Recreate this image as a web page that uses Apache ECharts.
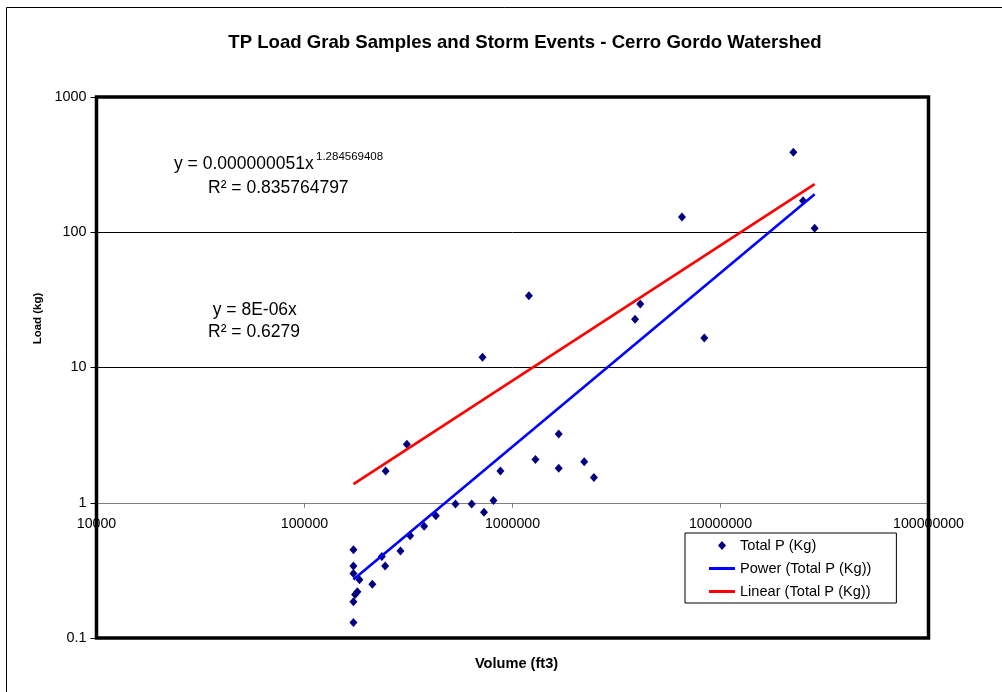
<!DOCTYPE html>
<html>
<head>
<meta charset="utf-8">
<title>TP Load Grab Samples and Storm Events - Cerro Gordo Watershed</title>
<script src="https://cdn.jsdelivr.net/npm/echarts@6/dist/echarts.min.js"></script>
<style>
  html, body { margin: 0; padding: 0; background: #fff; }
  #chart { width: 1002px; height: 692px; }
</style>
</head>
<body>
<div id="chart"></div>
<script>
// Runoff volume (ft3) and total phosphorus load (kg) for each sample / event
const volumes = [
  171900, 171900, 171900, 183700, 179600, 175100, 171900, 171900,
  211900, 235400, 244200, 289300, 322100, 376100, 428200, 531900,
  636400, 729300, 810000, 874700, 245500, 310500, 717400, 1199000,
  1289000, 1668000, 1668000, 2213000, 2463000, 3883000, 4114000, 6528000,
  8359000, 22400000, 24940000, 28360000
];
const loads = [
  0.45, 0.34, 0.30, 0.27, 0.22, 0.21, 0.185, 0.13,
  0.25, 0.40, 0.34, 0.44, 0.57, 0.67, 0.80, 0.98,
  0.98, 0.85, 1.04, 1.72, 1.72, 2.71, 11.9, 33.9,
  2.09, 3.23, 1.80, 2.01, 1.54, 22.7, 29.5, 129.8,
  16.5, 390, 171, 107
];

// Axis decades
const xTicks = [10000, 100000, 1000000, 10000000, 100000000];
const yTicks = [0.1, 1, 10, 100, 1000];

// Trendline fits
const POWER_COEF = 0.000000051;
const POWER_EXP = 1.284569408;
const POWER_R2 = 0.835764797;
const LINEAR_SLOPE = 8e-6;
const LINEAR_R2 = 0.6279;

const SERIES_POINTS = 'Total P (Kg)';
const SERIES_POWER = 'Power (Total P (Kg))';
const SERIES_LINEAR = 'Linear (Total P (Kg))';

const FONT = '"Liberation Sans", Arial, Helvetica, sans-serif';

const points = volumes.map((v, i) => [v, loads[i]]);
const xMin = Math.min(...volumes);
const xMax = Math.max(...volumes);
const powerLine = [xMin, xMax].map(x => [x, POWER_COEF * Math.pow(x, POWER_EXP)]);
const linearLine = [xMin, xMax].map(x => [x, LINEAR_SLOPE * x]);

function excelExp(v) {
  const parts = v.toExponential(0).split('e');
  const n = parseInt(parts[1], 10);
  return parts[0] + 'E' + (n < 0 ? '-' : '+') + String(Math.abs(n)).padStart(2, '0');
}
const tickText = v => String(Number(v.toPrecision(6)));

// Plot rectangle
const G = { left: 96.5, top: 97, width: 832, height: 541 };
// x axis crosses the y axis at load = 1
const yDecades = Math.log10(yTicks[yTicks.length - 1]) - Math.log10(yTicks[0]);
const xAxisOffset = -G.height * (Math.log10(1) - Math.log10(yTicks[0])) / yDecades;

// legend keys: a small diamond and short thick strokes
const ICON_DIAMOND = 'path://M4,0L8,4.5L4,9L0,4.5Z';
const ICON_STROKE = 'path://M0,0L26,0L26,3L0,3Z';

const chart = echarts.init(document.getElementById('chart'), null, { renderer: 'canvas' });

chart.setOption({
  backgroundColor: '#fff',
  animation: false,
  textStyle: { fontFamily: FONT },
  grid: { left: G.left, top: G.top, width: G.width, height: G.height, containLabel: false },
  xAxis: {
    type: 'log',
    logBase: 10,
    min: xTicks[0],
    max: xTicks[xTicks.length - 1],
    position: 'bottom',
    offset: xAxisOffset,
    z: 1,
    axisLine: { show: true, onZero: false, lineStyle: { color: '#808080', width: 1 } },
    axisTick: { show: true, inside: false, length: 5, lineStyle: { color: '#808080', width: 1 } },
    axisLabel: {
      show: true, margin: 14.5, color: '#000', fontSize: 14.2, fontFamily: FONT,
      showMinLabel: true, showMaxLabel: true, formatter: tickText
    },
    splitLine: { show: false },
    minorTick: { show: false }
  },
  yAxis: {
    type: 'log',
    logBase: 10,
    min: yTicks[0],
    max: yTicks[yTicks.length - 1],
    z: 0,
    axisLine: { show: false },
    axisTick: { show: true, inside: false, length: 6, lineStyle: { color: '#000', width: 1 } },
    axisLabel: {
      show: true, margin: 10, color: '#000', fontSize: 14.4, fontFamily: FONT,
      showMinLabel: true, showMaxLabel: true, formatter: tickText
    },
    splitLine: { show: true, lineStyle: { color: '#000', width: 1 } },
    minorTick: { show: false }
  },
  legend: {
    orient: 'vertical',
    left: 685,
    top: 533,
    padding: [5, 25, 4, 24],
    itemWidth: 26,
    itemHeight: 9,
    itemGap: 8,
    symbolKeepAspect: true,
    backgroundColor: '#fff',
    borderColor: '#000',
    borderWidth: 1,
    textStyle: { fontFamily: FONT, fontSize: 14.6, color: '#000' },
    data: [
      { name: SERIES_POINTS, icon: ICON_DIAMOND },
      { name: SERIES_POWER, icon: ICON_STROKE },
      { name: SERIES_LINEAR, icon: ICON_STROKE }
    ]
  },
  series: [
    {
      name: SERIES_POINTS,
      type: 'scatter',
      data: points,
      symbol: 'diamond',
      symbolSize: [8, 9],
      itemStyle: { color: '#000080', opacity: 1 }
    },
    {
      name: SERIES_POWER,
      type: 'line',
      data: powerLine,
      symbol: 'none',
      lineStyle: { color: '#0000FF', width: 2.6 },
      itemStyle: { color: '#0000FF' }
    },
    {
      name: SERIES_LINEAR,
      type: 'line',
      data: linearLine,
      symbol: 'none',
      lineStyle: { color: '#FF0000', width: 2.6 },
      itemStyle: { color: '#FF0000' }
    }
  ],
  graphic: [
    // chart area frame
    {
      type: 'rect', z: 0, silent: true,
      shape: { x: 6.5, y: 7.5, width: 1200, height: 900 },
      style: { fill: null, stroke: '#000', lineWidth: 1 }
    },
    // plot area frame
    {
      type: 'rect', z: 20, silent: true,
      shape: { x: G.left, y: G.top, width: G.width, height: G.height },
      style: { fill: null, stroke: '#000', lineWidth: 3.5 }
    },
    {
      type: 'text', z: 20, x: 525, y: 43,
      style: {
        text: 'TP Load Grab Samples and Storm Events - Cerro Gordo Watershed',
        fontFamily: FONT, fontSize: 18.6, fontWeight: 'bold', fill: '#000',
        align: 'center', verticalAlign: 'middle'
      }
    },
    {
      type: 'text', z: 20, x: 516.5, y: 663.5,
      style: {
        text: 'Volume (ft3)', fontFamily: FONT, fontSize: 14.6, fontWeight: 'bold', fill: '#000',
        align: 'center', verticalAlign: 'middle'
      }
    },
    {
      type: 'text', z: 20, x: 37.5, y: 318.5, rotation: Math.PI / 2,
      style: {
        text: 'Load (kg)', fontFamily: FONT, fontSize: 11.5, fontWeight: 'bold', fill: '#000',
        align: 'center', verticalAlign: 'middle'
      }
    },
    // power trendline equation
    {
      type: 'text', z: 20, x: 174, y: 164.5,
      style: {
        text: 'y = ' + POWER_COEF.toFixed(9) + 'x', fontFamily: FONT, fontSize: 17.5, fill: '#000',
        align: 'left', verticalAlign: 'middle'
      }
    },
    {
      type: 'text', z: 20, x: 316, y: 157,
      style: {
        text: String(POWER_EXP), fontFamily: FONT, fontSize: 11.5, fill: '#000',
        align: 'left', verticalAlign: 'middle'
      }
    },
    {
      type: 'text', z: 20, x: 208, y: 188.5,
      style: {
        text: 'R\u00B2 = ' + String(POWER_R2), fontFamily: FONT, fontSize: 17.5, fill: '#000',
        align: 'left', verticalAlign: 'middle'
      }
    },
    // linear trendline equation
    {
      type: 'text', z: 20, x: 212.7, y: 310.5,
      style: {
        text: 'y = ' + excelExp(LINEAR_SLOPE) + 'x', fontFamily: FONT, fontSize: 17.5, fill: '#000',
        align: 'left', verticalAlign: 'middle'
      }
    },
    {
      type: 'text', z: 20, x: 208, y: 332,
      style: {
        text: 'R\u00B2 = ' + String(LINEAR_R2), fontFamily: FONT, fontSize: 17.5, fill: '#000',
        align: 'left', verticalAlign: 'middle'
      }
    }
  ]
});
</script>
</body>
</html>
